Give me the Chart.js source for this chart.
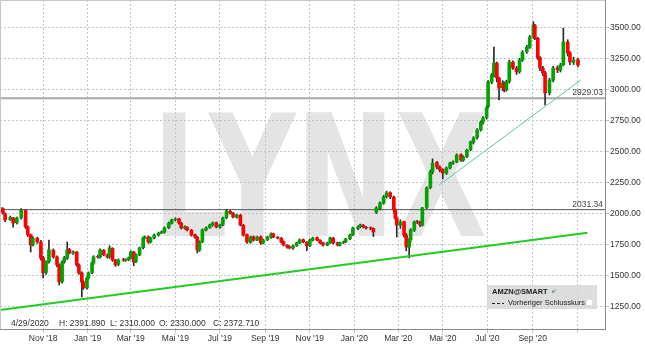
<!DOCTYPE html>
<html>
<head>
<meta charset="utf-8">
<script src="https://cdn.jsdelivr.net/npm/chart.js@4.4.1/dist/chart.umd.min.js"></script>
<style>
  html, body { margin: 0; padding: 0; background: #fff; }
  #wrap { width: 645px; height: 348px; }
</style>
</head>
<body>
<div id="wrap"><canvas id="chart" width="645" height="348"></canvas></div>
<script>
// AMZN candles (roughly one candle per 3-4 trading days)
const dates = [
  '2018-09-04','2018-09-07','2018-09-10','2018-09-17','2018-09-21','2018-09-26','2018-10-02','2018-10-08','2018-10-11','2018-10-15',
  '2018-10-18','2018-10-24','2018-10-29','2018-11-01','2018-11-05','2018-11-09','2018-11-15','2018-11-20','2018-11-23','2018-11-27',
  '2018-11-30','2018-12-04','2018-12-07','2018-12-12','2018-12-17','2018-12-20','2018-12-24','2018-12-26','2018-12-31','2019-01-02',
  '2019-01-07','2019-01-09','2019-01-15','2019-01-18','2019-01-23','2019-01-28','2019-01-31','2019-02-04','2019-02-08','2019-02-12',
  '2019-02-19','2019-02-22','2019-02-26','2019-03-01','2019-03-05','2019-03-08','2019-03-13','2019-03-18','2019-03-20','2019-03-25',
  '2019-03-28','2019-04-02','2019-04-08','2019-04-12','2019-04-16','2019-04-22','2019-04-26','2019-05-01','2019-05-06','2019-05-09',
  '2019-05-14','2019-05-17','2019-05-23','2019-05-28','2019-05-31','2019-06-03','2019-06-07','2019-06-12','2019-06-17','2019-06-21',
  '2019-06-26','2019-07-01','2019-07-05','2019-07-10','2019-07-15','2019-07-19','2019-07-24','2019-07-29','2019-08-02','2019-08-07',
  '2019-08-12','2019-08-16','2019-08-21','2019-08-26','2019-08-29','2019-09-04','2019-09-09','2019-09-12','2019-09-18','2019-09-23',
  '2019-09-26','2019-10-01','2019-10-04','2019-10-09','2019-10-14','2019-10-18','2019-10-23','2019-10-28','2019-11-01','2019-11-05',
  '2019-11-11','2019-11-15','2019-11-19','2019-11-25','2019-11-29','2019-12-03','2019-12-09','2019-12-12','2019-12-17','2019-12-20',
  '2019-12-26','2019-12-30','2020-01-06','2020-01-09','2020-01-13','2020-01-17','2020-01-23','2020-01-27','2020-01-31','2020-02-05',
  '2020-02-10','2020-02-14','2020-02-19','2020-02-24','2020-02-26','2020-02-28','2020-03-04','2020-03-09','2020-03-12','2020-03-16',
  '2020-03-18','2020-03-23','2020-03-27','2020-03-31','2020-04-03','2020-04-09','2020-04-14','2020-04-17','2020-04-23','2020-04-27',
  '2020-05-01','2020-05-06','2020-05-11','2020-05-15','2020-05-20','2020-05-26','2020-05-29','2020-06-03','2020-06-08','2020-06-12',
  '2020-06-17','2020-06-22','2020-06-25','2020-06-30','2020-07-02','2020-07-07','2020-07-10','2020-07-14','2020-07-17','2020-07-22',
  '2020-07-24','2020-07-27','2020-07-31','2020-08-05','2020-08-10','2020-08-14','2020-08-18','2020-08-24','2020-08-28','2020-09-02',
  '2020-09-04','2020-09-08','2020-09-11','2020-09-15','2020-09-18','2020-09-24','2020-09-29','2020-10-05','2020-10-09','2020-10-13',
  '2020-10-19','2020-10-22','2020-10-27','2020-11-02'
];
const opens = [
  2030,2040,2000,1950,1965,1925,1965,2025,1895,1830,
  1750,1800,1770,1645,1525,1612,1705,1650,1585,1452,
  1612,1640,1710,1680,1690,1585,1520,1450,1400,1480,
  1525,1600,1655,1650,1705,1665,1650,1720,1625,1590,
  1628,1624,1628,1645,1690,1612,1665,1725,1800,1812,
  1770,1805,1825,1845,1850,1886,1922,1950,1958,1922,
  1882,1890,1866,1830,1810,1705,1773,1866,1886,1906,
  1926,1890,1910,1966,2018,2003,1970,1986,1906,1830,
  1768,1813,1785,1813,1761,1789,1809,1837,1809,1801,
  1773,1745,1733,1721,1741,1765,1789,1769,1741,1785,
  1805,1785,1765,1745,1765,1801,1765,1745,1765,1773,
  1797,1830,1880,1894,1906,1890,1886,1880,2010,2040,
  2082,2136,2168,2132,2031,1962,1905,1935,1825,1729,
  1789,1866,1934,1930,1906,2050,2210,2338,2410,2372,
  2353,2324,2369,2405,2417,2474,2429,2458,2514,2574,
  2611,2675,2735,2772,2860,3058,3118,3211,3090,3013,
  3049,2997,3062,3219,3170,3142,3235,3303,3339,3424,
  3516,3412,3255,3170,3134,2973,3074,3174,3154,3198,
  3380,3295,3219,3239
];
const highs = [
  2050,2045,2005,1980,1970,1972,2040,2030,1900,1835,
  1815,1810,1785,1655,1620,1787,1715,1660,1595,1620,
  1655,1771,1720,1700,1695,1595,1530,1460,1490,1530,
  1612,1660,1665,1715,1710,1675,1740,1725,1632,1635,
  1640,1636,1650,1700,1695,1675,1730,1812,1820,1820,
  1810,1835,1850,1860,1892,1932,1955,1965,1962,1930,
  1900,1895,1872,1835,1815,1780,1876,1892,1915,1932,
  1932,1915,1972,2035,2028,2010,1995,1994,1912,1835,
  1818,1820,1818,1820,1795,1818,1845,1842,1815,1808,
  1780,1750,1740,1745,1770,1795,1795,1775,1795,1810,
  1812,1790,1770,1770,1810,1808,1770,1770,1778,1800,
  1835,1890,1900,1915,1912,1896,1892,1885,2055,2095,
  2145,2180,2175,2140,2040,1975,1950,1940,1840,1800,
  1878,1940,1945,1940,2050,2215,2350,2440,2420,2385,
  2360,2375,2415,2425,2480,2480,2465,2520,2585,2620,
  2685,2745,2780,2870,3070,3130,3341,3220,3100,3070,
  3060,3075,3235,3230,3185,3250,3312,3355,3435,3545,
  3525,3420,3265,3185,3145,3090,3185,3190,3210,3494,
  3400,3305,3260,3250
];
const lows = [
  2020,1995,1935,1945,1890,1915,1955,1880,1815,1690,
  1740,1760,1625,1481,1510,1600,1640,1570,1425,1440,
  1600,1630,1675,1670,1575,1510,1328,1390,1390,1470,
  1515,1590,1640,1640,1660,1640,1640,1615,1575,1580,
  1615,1615,1620,1635,1580,1605,1660,1715,1795,1760,
  1762,1795,1818,1838,1842,1878,1915,1940,1915,1875,
  1874,1860,1818,1800,1683,1695,1765,1860,1880,1898,
  1884,1882,1902,1958,1995,1965,1962,1900,1818,1760,
  1760,1778,1780,1752,1755,1782,1800,1805,1795,1762,
  1738,1722,1715,1712,1735,1758,1765,1700,1733,1778,
  1780,1755,1738,1740,1758,1755,1738,1738,1758,1765,
  1790,1822,1870,1885,1885,1875,1870,1815,2000,2030,
  2075,2125,2120,2010,1950,1811,1880,1810,1700,1643,
  1770,1855,1920,1895,1900,2040,2200,2320,2360,2335,
  2280,2315,2360,2395,2410,2420,2420,2450,2505,2560,
  2600,2665,2720,2760,2850,3045,3100,3060,2915,2990,
  2980,2985,3050,3160,3120,3130,3225,3290,3330,3410,
  3400,3240,3150,3110,2874,2955,3060,3135,3140,3190,
  3270,3200,3200,3180
];
const closes = [
  2045,2005,1948,1970,1924,1964,2029,1892,1827,1747,
  1803,1771,1640,1522,1610,1707,1651,1586,1449,1610,
  1643,1707,1683,1691,1586,1522,1449,1401,1481,1522,
  1602,1651,1651,1707,1667,1651,1723,1626,1586,1626,
  1626,1626,1643,1691,1610,1667,1723,1803,1811,1771,
  1803,1827,1843,1852,1884,1924,1948,1956,1924,1884,
  1892,1868,1827,1811,1707,1771,1868,1884,1908,1924,
  1892,1908,1964,2020,2005,1972,1988,1908,1827,1771,
  1811,1787,1811,1763,1787,1811,1835,1811,1803,1771,
  1747,1731,1723,1739,1763,1787,1771,1739,1787,1803,
  1787,1763,1747,1763,1803,1763,1747,1763,1771,1795,
  1827,1884,1892,1908,1892,1884,1884,1852,2045,2085,
  2134,2166,2134,2029,1964,1908,1932,1827,1731,1787,
  1868,1932,1932,1908,2045,2206,2335,2407,2375,2351,
  2327,2367,2407,2415,2472,2431,2456,2512,2576,2609,
  2673,2737,2770,2850,3060,3116,3213,3092,3011,3051,
  2995,3060,3221,3172,3140,3237,3301,3341,3422,3518,
  3414,3253,3172,3132,2971,3076,3172,3156,3196,3382,
  3293,3221,3237,3196
];

const tickDates = ['2018-11-01','2019-01-01','2019-03-01','2019-05-01','2019-07-01','2019-09-01',
  '2019-11-01','2020-01-01','2020-03-01','2020-05-01','2020-07-01','2020-09-01','2020-11-01'];
const tickLabels = ["Nov '18","Jan '19","Mar '19","Mai '19","Jul '19","Sep '19",
  "Nov '19","Jan '20","Mar '20","Mai '20","Jul '20","Sep '20",""];
const yTicks = [1250, 1500, 1750, 2000, 2250, 2500, 2750, 3000, 3250, 3500];
const xRange = ['2018-09-03', '2020-12-09'];
const yRange = [1070, 3720];

const refLevels = [2929.03, 2031.34];
const supportDates = ['2018-09-03', '2020-11-15'];
const supportValues = [1223, 1846];
const trendDates = ['2020-04-26', '2020-11-06'];
const trendValues = [2230, 3076];

const infoTexts = ['4/29/2020', 'H: 2391.890', 'L: 2310.000', 'O: 2330.000', 'C: 2372.710'];
const legendTitle = 'AMZN@SMART';
const legendLine = 'Vorheriger Schlusskurs';

const FONT = "'Liberation Sans', Arial, sans-serif";
const day0 = Date.UTC(2018, 10, 1);
function dayNum(s) {
  const p = s.split('-');
  return (Date.UTC(+p[0], +p[1] - 1, +p[2]) - day0) / 86400000;
}

const upColor = '#00a400';
const downColor = '#ff0000';
const bodyColors = closes.map((c, i) => c >= opens[i] ? upColor : downColor);

const wickData = dates.map((d, i) => ({ x: dayNum(d), y: [lows[i], highs[i]] }));
const bodyData = dates.map((d, i) => ({ x: dayNum(d), y: [opens[i], closes[i]] }));

const xMin = dayNum(xRange[0]);
const xMax = dayNum(xRange[1]);

const refColors = ['#a8a8a8', '#555555'];
const refWidths = [2, 1];
const refSets = refLevels.map((lv, i) => ({
  type: 'line',
  data: [{ x: xMin, y: lv }, { x: xMax, y: lv }],
  borderColor: refColors[i],
  borderWidth: refWidths[i],
  pointRadius: 0,
  order: 5
}));

// watermark, frame, level labels, info row and legend box
const decor = {
  id: 'decor',
  beforeDraw(chart) {
    const { ctx } = chart;
    ctx.save();
    ctx.fillStyle = '#fff';
    ctx.fillRect(0, 0, chart.width, chart.height);
    ctx.font = "bold 170px 'DejaVu Sans', 'Liberation Sans', sans-serif";
    const w = ctx.measureText('LYNX').width;
    ctx.translate(152, 236);
    ctx.scale(335 / w, 1);
    ctx.fillStyle = '#e4e4e4';
    ctx.textBaseline = 'alphabetic';
    ctx.fillText('LYNX', 0, 0);
    ctx.restore();
  },
  afterDatasetsDraw(chart) {
    const { ctx, chartArea: a, scales } = chart;
    ctx.save();
    ctx.strokeStyle = '#c8c8c8';
    ctx.lineWidth = 1;
    ctx.beginPath();
    ctx.moveTo(a.left + 0.5, a.bottom);
    ctx.lineTo(a.left + 0.5, a.top + 0.5);
    ctx.lineTo(a.right, a.top + 0.5);
    ctx.stroke();

    ctx.font = '8.5px ' + FONT;
    ctx.fillStyle = '#444';
    ctx.textAlign = 'right';
    ctx.textBaseline = 'bottom';
    refLevels.forEach(lv => {
      ctx.fillText(lv.toFixed(2), a.right - 2, scales.y.getPixelForValue(lv) - 1);
    });

    ctx.textAlign = 'left';
    ctx.textBaseline = 'middle';
    ctx.fillStyle = '#333';
    const infoX = [11, 59, 110, 159, 213];
    infoTexts.forEach((t, i) => ctx.fillText(t, infoX[i], 324));

    ctx.fillStyle = 'rgba(215,215,215,0.85)';
    ctx.fillRect(487, 285, 110, 24);
    ctx.fillStyle = '#222';
    ctx.font = 'bold 7.5px ' + FONT;
    ctx.fillText(legendTitle, 492, 292);
    const tw = ctx.measureText(legendTitle).width;
    ctx.font = '6px ' + FONT;
    ctx.fillStyle = '#3a7a6a';
    ctx.fillText("e'", 492 + tw + 4, 291);
    ctx.strokeStyle = '#222';
    ctx.setLineDash([3, 2]);
    ctx.beginPath();
    ctx.moveTo(492, 303.5);
    ctx.lineTo(504, 303.5);
    ctx.stroke();
    ctx.setLineDash([]);
    ctx.font = '7.5px ' + FONT;
    ctx.fillStyle = '#222';
    ctx.fillText(legendLine, 508, 303);
    ctx.fillStyle = '#fff';
    ctx.fillRect(587, 300, 5, 5);
    ctx.restore();
  }
};

Chart.defaults.font.family = FONT;
Chart.defaults.font.size = 8.5;
Chart.defaults.color = '#333';

new Chart(document.getElementById('chart'), {
  type: 'bar',
  data: {
    datasets: [
      {
        type: 'line',
        data: supportDates.map((d, i) => ({ x: dayNum(d), y: supportValues[i] })),
        borderColor: '#22cc22',
        borderWidth: 2,
        pointRadius: 0,
        order: 0
      },
      {
        type: 'line',
        data: trendDates.map((d, i) => ({ x: dayNum(d), y: trendValues[i] })),
        borderColor: '#5cc8a2',
        borderWidth: 1,
        pointRadius: 0,
        order: 0
      },
      {
        data: bodyData,
        backgroundColor: bodyColors,
        borderWidth: 0,
        barThickness: 3,
        grouped: false,
        order: 1
      },
      {
        data: wickData,
        backgroundColor: '#2a2a2a',
        borderWidth: 0,
        barThickness: 1,
        grouped: false,
        order: 2
      },
      ...refSets
    ]
  },
  options: {
    responsive: false,
    animation: false,
    events: [],
    layout: { padding: 0 },
    plugins: {
      legend: { display: false },
      title: { display: false },
      tooltip: { enabled: false }
    },
    scales: {
      x: {
        type: 'linear',
        min: xMin,
        max: xMax,
        offset: false,
        afterBuildTicks: s => { s.ticks = tickDates.map(d => ({ value: dayNum(d) })); },
        afterFit: s => { s.height = 19; s.paddingLeft = 0; s.paddingRight = 0; },
        grid: { color: '#c4c4c4', offset: false, tickLength: 4 },
        border: { display: true, color: '#8a8a8a', dash: [2, 2] },
        ticks: {
          autoSkip: false,
          maxRotation: 0,
          padding: 1,
          color: '#333',
          font: { size: 8.5 },
          callback: (v, i) => tickLabels[i]
        }
      },
      y: {
        type: 'linear',
        position: 'right',
        min: yRange[0],
        max: yRange[1],
        afterBuildTicks: s => { s.ticks = yTicks.map(v => ({ value: v })); },
        afterFit: s => { s.width = 40; s.paddingTop = 0; s.paddingBottom = 0; },
        grid: { color: '#c4c4c4', tickLength: 4 },
        border: { display: true, color: '#8a8a8a', dash: [2, 2] },
        ticks: {
          padding: 1,
          color: '#333',
          font: { size: 8.5 },
          callback: v => Number(v).toFixed(2)
        }
      }
    }
  },
  plugins: [decor]
});
</script>
</body>
</html>
